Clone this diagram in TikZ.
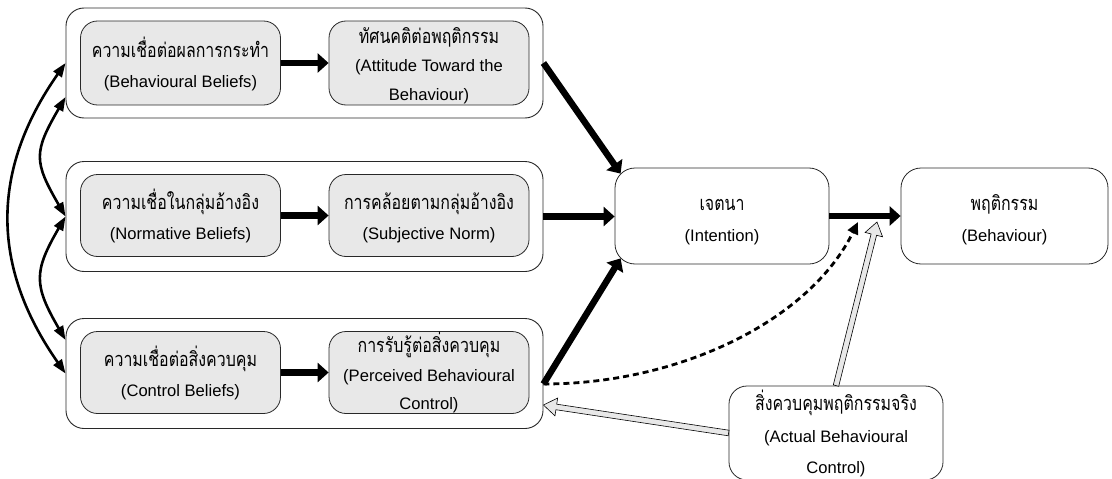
\documentclass[tikz,border=0pt]{standalone}
\usepackage{fontspec}
\setmainfont{Liberation Sans}
\newfontfamily\thai[Script=Thai, Scale=1.2, FakeStretch=0.8]{Loma}
\usetikzlibrary{arrows.meta,calc}

\definecolor{boxfill}{RGB}{232,232,232}
\definecolor{edge}{RGB}{40,40,40}

% first line strut, keeps every label at the same height in its box
\newcommand\firstline[1]{\rule{0pt}{#1}}

% block arrow with an open head: shaft half-width 2.8pt, head 13pt long
\newcommand\hollowarrow[2]{%
  \path ($(#2)!13pt!(#1)$) coordinate (hb);
  \filldraw[hollow] ($(#1)!2.8pt!90:(#2)$) -- ($(hb)!2.8pt!90:(#2)$)
    -- ($(hb)!9pt!90:(#2)$) -- (#2) -- ($(hb)!9pt!-90:(#2)$)
    -- ($(hb)!2.8pt!-90:(#2)$) -- ($(#1)!2.8pt!-90:(#2)$) -- cycle;
}

\begin{document}
\begin{tikzpicture}[x=1pt,y=-1pt,
  every node/.style={font=\fontsize{16.6}{30}\selectfont, align=center, inner sep=0pt},
  three/.style={font=\fontsize{16.6}{28.5}\selectfont},
  group/.style={draw=edge, line width=0.9pt, rounded corners=18pt, minimum width=477pt, minimum height=110pt, fill=white},
  factor/.style={draw=edge, line width=0.8pt, rounded corners=17pt, fill=boxfill, minimum width=200pt, minimum height=82pt},
  outcome/.style={draw=edge, line width=0.8pt, rounded corners=20pt, fill=white, minimum width=214pt, minimum height=96pt, font=\fontsize{16.6}{31}\selectfont},
  heavy/.style={line width=6.5pt, -{Triangle[length=11pt,width=19pt]}},
  link/.style={line width=2.6pt, {Triangle[length=14pt,width=10pt]}-{Triangle[length=14pt,width=10pt]}},
  hollow/.style={draw=black, line width=0.6pt, fill=boxfill, line join=miter},
  dashedarrow/.style={line width=2.8pt, dash pattern=on 6pt off 4pt, -{Triangle[length=12pt,width=11pt]}}
]
\useasboundingbox (0,0) rectangle (1112,479);

% three groups of belief -> attitude pairs
\node[group] (g1) at (304.5,63) {};
\node[group] (g2) at (304.5,216.5) {};
\node[group] (g3) at (304.5,373.5) {};

\node[factor, minimum height=84pt] (bb) at (180.5,63) {\firstline{22pt}{\thai ความเชื่อต่อผลการกระทำ}\\(Behavioural Beliefs)};
\node[factor, three, minimum height=84pt] (att) at (429,63) {\firstline{21pt}{\thai ทัศนคติต่อพฤติกรรม}\\(Attitude Toward the\\Behaviour)};
\node[factor] (nb) at (180.5,215.5) {\firstline{22pt}{\thai ความเชื่อในกลุ่มอ้างอิง}\\(Normative Beliefs)};
\node[factor] (sn) at (429,215.5) {\firstline{22pt}{\thai การคล้อยตามกลุ่มอ้างอิง}\\(Subjective Norm)};
\node[factor] (cb) at (180.5,372.5) {\firstline{22pt}{\thai ความเชื่อต่อสิ่งควบคุม}\\(Control Beliefs)};
\node[factor, three] (pbc) at (429,372.5) {\firstline{21pt}{\thai การรับรู้ต่อสิ่งควบคุม}\\(Perceived Behavioural\\Control)};

% intention, behaviour and actual control
\node[outcome] (int) at (722,216) {\firstline{24pt}{\thai เจตนา}\\(Intention)};
\node[outcome, minimum width=207pt] (beh) at (1004.5,216) {\firstline{24pt}{\thai พฤติกรรม}\\(Behaviour)};
\node[outcome, minimum height=94pt, rounded corners=18pt, font=\fontsize{16.6}{31.5}\selectfont] (act) at (836,433) {\firstline{22pt}{\thai สิ่งควบคุมพฤติกรรมจริง}\\(Actual Behavioural\\Control)};

\coordinate (pbcout) at ($(g3.east)+(0,10.5)$);
\coordinate (pbcin) at ($(g3.east)+(0,31.5)$);
\coordinate (mod1) at (858,222);
\coordinate (mod2) at (877,222);

% arrows inside the groups
\draw[heavy] (bb) -- (att);
\draw[heavy] (nb) -- (sn);
\draw[heavy] (cb) -- (pbc);

% arrows into intention and behaviour
\draw[heavy] (g1.east) -- ($(int.north west)+(6,6)$);
\draw[heavy] (g2.east) -- (g2.east -| int.west);
\draw[heavy] (pbcout) -- ($(int.south west)+(6,-6)$);
\draw[heavy] (int) -- (beh);
\draw[dashedarrow] (pbcout) .. controls +(137,0) and +(-48,98) .. (mod1);
\hollowarrow{act.north}{mod2}
\hollowarrow{act.west}{pbcin}

% correlations between the belief groups
\draw[link] (g1.west) .. controls +(-75,107) and +(-75,-107) .. (g3.west);
\draw[link] ($(g1.west)+(0,34)$) .. controls +(-32,55) and +(-32,-55) .. (g2.west);
\draw[link] (g2.west) .. controls +(-32,55) and +(-32,-55) .. ($(g3.west)+(0,-33.5)$);
\end{tikzpicture}
\end{document}
